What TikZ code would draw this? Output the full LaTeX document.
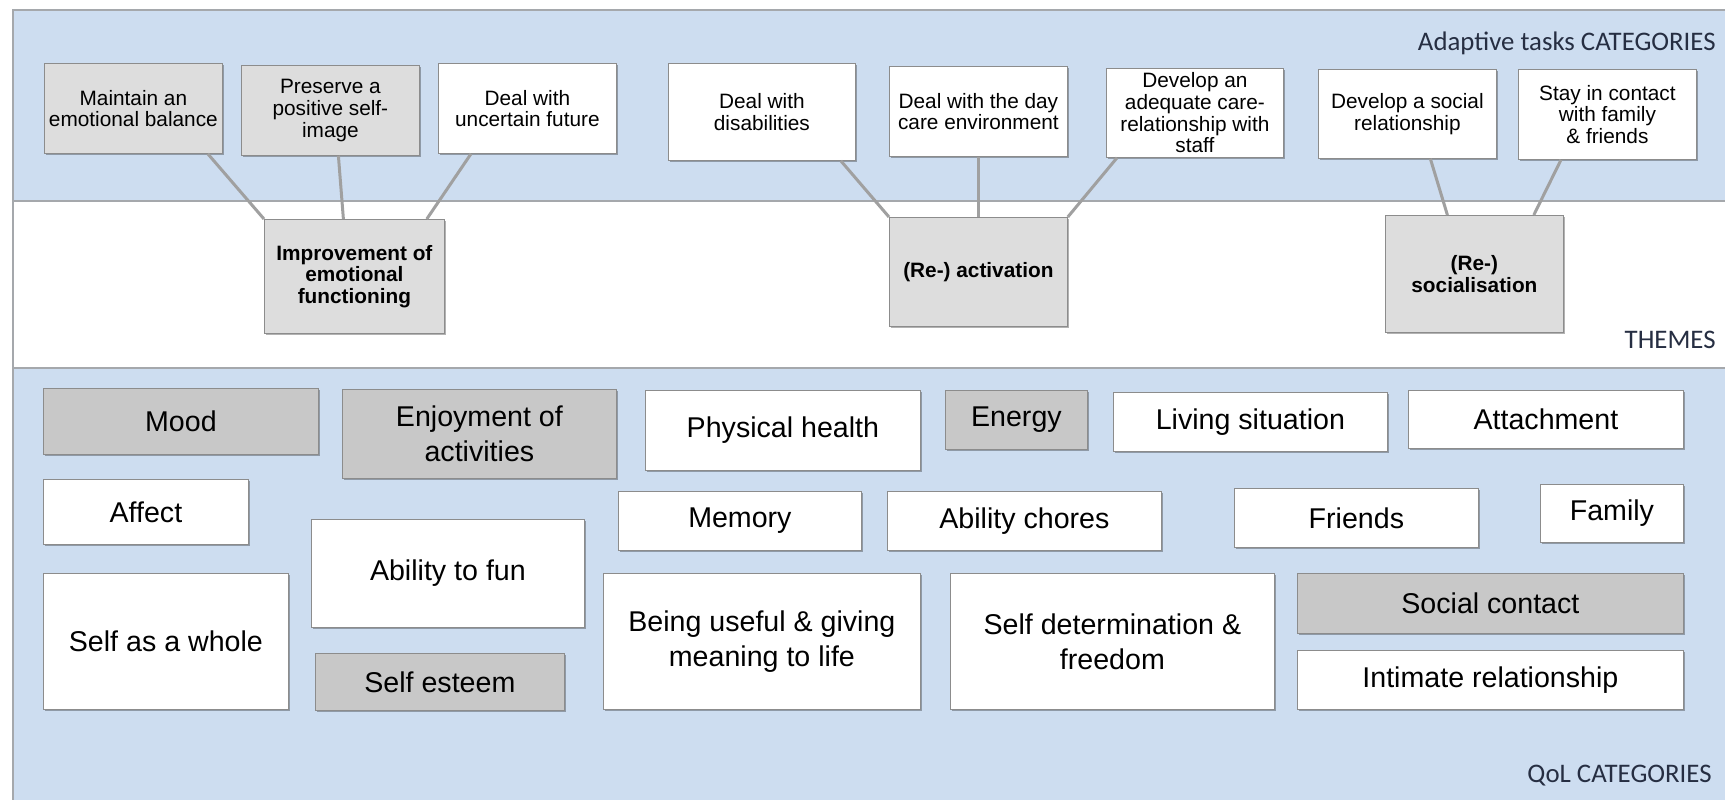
\documentclass[tikz,border=0pt]{standalone}
\usepackage{fontspec}
\setmainfont{Liberation Sans}
\newfontfamily\carlito{Carlito}
\usepackage{tikz}
\usetikzlibrary{shadows}
\usepackage{color}

\definecolor{bandblue}{RGB}{205,221,240}
\definecolor{bandline}{RGB}{165,168,172}
\definecolor{boxline}{RGB}{140,140,140}
\definecolor{lightbox}{RGB}{221,221,221}
\definecolor{darkbox}{RGB}{200,200,200}
\definecolor{linkgray}{RGB}{160,160,160}
\definecolor{labelblue}{RGB}{38,46,66}

\tikzset{
    band/.style={anchor=north west,inner sep=0pt,draw=bandline,line width=1pt},
    taskbox/.style={anchor=north west,draw=boxline,fill=white,align=center,inner sep=1pt,
        font=\fontsize{10.4}{10.8}\selectfont,
        drop shadow={shadow xshift=1pt,shadow yshift=-1pt,fill=black,opacity=.3}},
    taskgray/.style={taskbox,fill=lightbox},
    themebox/.style={taskgray,font=\bfseries\fontsize{10.4}{10.8}\selectfont},
    qolbox/.style={anchor=north west,draw=boxline,fill=white,align=center,inner sep=1pt,
        font=\fontsize{14.3}{17.5}\selectfont,
        drop shadow={shadow xshift=1pt,shadow yshift=-1pt,fill=black,opacity=.3}},
    qolgray/.style={qolbox,fill=darkbox},
    link/.style={draw=linkgray,line width=1.5pt},
    bandlabel/.style={anchor=east,inner sep=0pt,text=labelblue,font=\carlito\fontsize{13.4}{15}\selectfont}
}

\begin{document}
\begin{tikzpicture}[x=0.5pt,y=-0.5pt]
    \useasboundingbox (0,0) rectangle (1725,799);

    % bands
    \node[band,fill=bandblue,minimum width=860pt,minimum height=95.5pt] (taskband) at (12,9) {};
    \node[band,fill=white,minimum width=860pt,minimum height=83.5pt] (themeband) at (12,200) {};
    \node[band,fill=bandblue,minimum width=860pt,minimum height=220pt] (qolband) at (12,367) {};

    \node[bandlabel] (tasklabel) at (1716,43) {Adaptive tasks CATEGORIES};
    \node[bandlabel] (themelabel) at (1716,340) {THEMES};
    \node[bandlabel] (qollabel) at (1712,776) {QoL CATEGORIES};

    % adaptive tasks
    \node[taskgray,minimum width=89pt,minimum height=45pt] (maintain) at (44,63) {Maintain an\\emotional balance};
    \node[taskgray,minimum width=89pt,minimum height=45pt] (preserve) at (241,65) {Preserve a\\positive self-\\image};
    \node[taskbox,minimum width=89pt,minimum height=45pt] (uncertain) at (438,63) {Deal with\\uncertain future};
    \node[taskbox,minimum width=93.5pt,minimum height=48.5pt] (disab) at (668,63) {Deal with\\disabilities};
    \node[taskbox,minimum width=89pt,minimum height=45pt] (daycare) at (889,66) {Deal with the day\\care environment};
    \node[taskbox,minimum width=88.5pt,minimum height=44.5pt] (carerel) at (1106,68) {Develop an\\adequate care-\\relationship with\\staff};
    \node[taskbox,minimum width=89pt,minimum height=44.5pt] (socrel) at (1318,69) {Develop a social\\relationship};
    \node[taskbox,minimum width=89pt,minimum height=45pt] (contact) at (1518,69) {Stay in contact\\with family\\\& friends};

    % themes
    \node[themebox,minimum width=90pt,minimum height=57pt] (emo) at (264,219) {Improvement of\\emotional\\functioning};
    \node[themebox,minimum width=89pt,minimum height=54.5pt] (act) at (889,217) {(Re-) activation};
    \node[themebox,minimum width=89pt,minimum height=58.5pt] (soc) at (1385,215) {(Re-)\\socialisation};

    \draw[link] ([xshift=-7.5pt]maintain.south east) -- (emo.north west);
    \draw[link] ([xshift=4pt]preserve.south) -- ([xshift=-5.5pt]emo.north);
    \draw[link] ([xshift=16.5pt]uncertain.south west) -- ([xshift=-9pt]emo.north east);
    \draw[link] ([xshift=-7.5pt]disab.south east) -- (act.north west);
    \draw[link] (daycare.south) -- (act.north);
    \draw[link] ([xshift=5.5pt]carerel.south west) -- (act.north east);
    \draw[link] ([xshift=11.5pt]socrel.south) -- ([xshift=-13.5pt]soc.north);
    \draw[link] ([xshift=21.5pt]contact.south west) -- ([xshift=-15pt]soc.north east);

    % QoL categories
    \node[qolgray,minimum width=137.5pt,minimum height=33pt] (mood) at (43,388) {Mood};
    \node[qolgray,minimum width=137pt,minimum height=44.5pt] (enjoy) at (342,389) {Enjoyment of\\activities};
    \node[qolbox,minimum width=137.5pt,minimum height=40pt] (physical) at (645,390) {Physical health};
    \node[qolgray,minimum width=71pt,minimum height=29.5pt] (energy) at (945,390) {Energy};
    \node[qolbox,minimum width=137pt,minimum height=29.5pt] (living) at (1113,392) {Living situation};
    \node[qolbox,minimum width=137.5pt,minimum height=29pt] (attach) at (1408,390) {Attachment};
    \node[qolbox,minimum width=102.5pt,minimum height=32.5pt] (affect) at (43,479) {Affect};
    \node[qolbox,minimum width=121.5pt,minimum height=29.5pt] (memory) at (618,491) {Memory};
    \node[qolbox,minimum width=137pt,minimum height=29.5pt] (chores) at (887,491) {Ability chores};
    \node[qolbox,minimum width=122pt,minimum height=29.5pt] (friends) at (1234,488) {Friends};
    \node[qolbox,minimum width=71.5pt,minimum height=29pt] (family) at (1540,484) {Family};
    \node[qolbox,minimum width=136.5pt,minimum height=54pt] (fun) at (311,519) {Ability to fun};
    \node[qolbox,minimum width=122.5pt,minimum height=68pt] (self) at (43,573) {Self as a whole};
    \node[qolgray,minimum width=124.5pt,minimum height=28.5pt] (esteem) at (315,653) {Self esteem};
    \node[qolbox,minimum width=158.5pt,minimum height=68pt] (useful) at (603,573) {Being useful \& giving\\meaning to life};
    \node[qolbox,minimum width=162pt,minimum height=68pt] (determ) at (950,573) {Self determination \&\\freedom};
    \node[qolgray,minimum width=193pt,minimum height=30pt] (social) at (1297,573) {Social contact};
    \node[qolbox,minimum width=193pt,minimum height=29.5pt] (intimate) at (1297,650) {Intimate relationship};
\end{tikzpicture}
\end{document}
